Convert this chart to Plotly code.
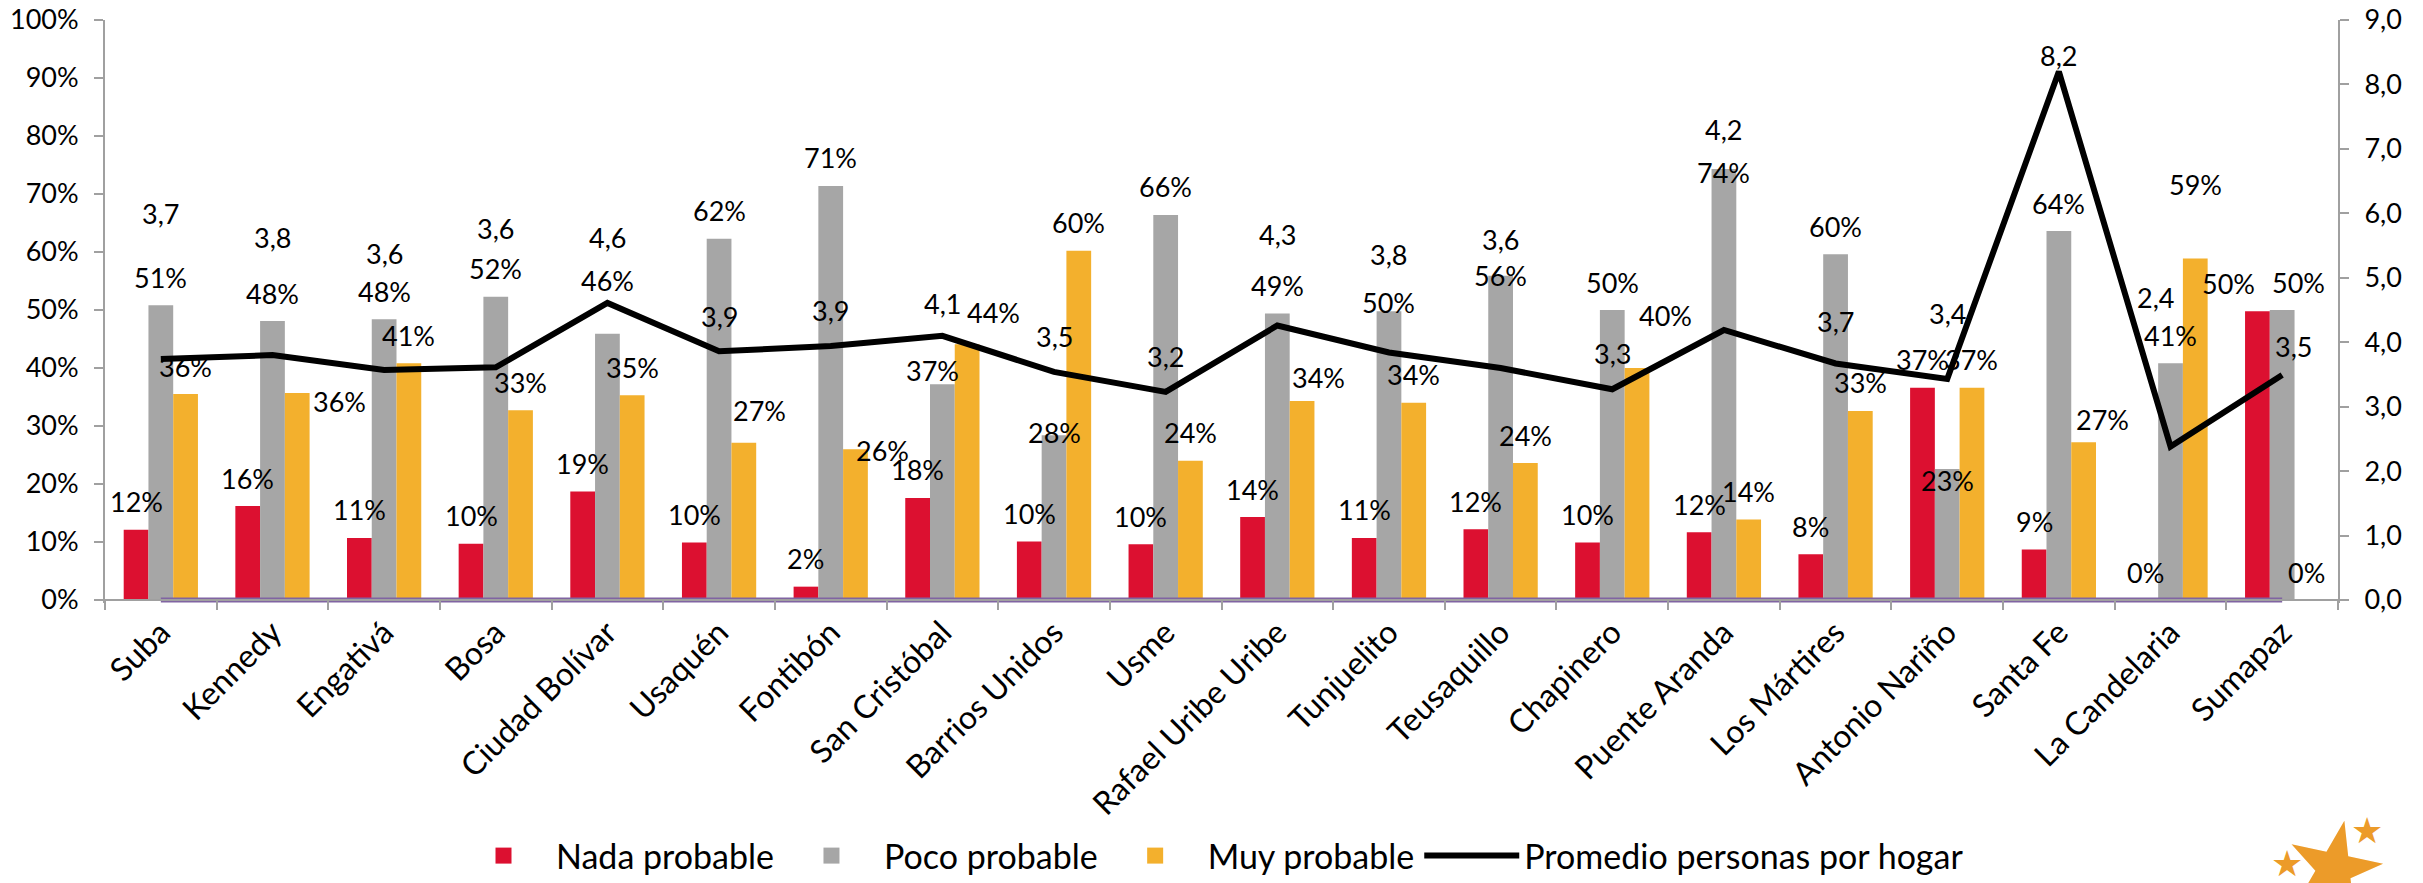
import plotly.graph_objects as go

# localidades de Bogota
localidades = ["Suba", "Kennedy", "Engativá", "Bosa", "Ciudad Bolívar", "Usaquén",
               "Fontibón", "San Cristóbal", "Barrios Unidos", "Usme",
               "Rafael Uribe Uribe", "Tunjuelito", "Teusaquillo", "Chapinero",
               "Puente Aranda", "Los Mártires", "Antonio Nariño", "Santa Fe",
               "La Candelaria", "Sumapaz"]

nada_probable = [12.1, 16.2, 10.7, 9.7, 18.7, 9.9, 2.3, 17.6, 10.1, 9.6,
                 14.3, 10.7, 12.2, 9.9, 11.7, 7.9, 36.6, 8.7, 0.0, 49.8]
poco_probable = [50.8, 48.1, 48.4, 52.3, 45.9, 62.3, 71.4, 37.2, 28.4, 66.4,
                 49.4, 49.8, 55.9, 50.0, 74.3, 59.6, 22.6, 63.6, 40.8, 50.0]
muy_probable = [35.5, 35.7, 40.8, 32.7, 35.3, 27.1, 26.0, 44.1, 60.2, 24.0,
                34.3, 34.0, 23.6, 40.0, 13.9, 32.6, 36.6, 27.2, 58.9, 0.0]
promedio_hogar = [3.74, 3.80, 3.57, 3.61, 4.61, 3.86, 3.94, 4.10, 3.54, 3.23,
                  4.26, 3.84, 3.60, 3.27, 4.19, 3.67, 3.43, 8.20, 2.38, 3.49]
linea_base = [0, 0, 0, 0, 0, 0, 0, 0, 0, 0, 0, 0, 0, 0, 0, 0, 0, 0, 0, 0]

ROJO = "#DC1030"
GRIS = "#A6A6A6"
NARANJA = "#F3B02D"
MORADO = "#8064A2"
EJE = "#A0A0A0"
FUENTE = "Lato, sans-serif"

W, H = 2423, 883
ML, MR, MT, MB = 105, 85, 20, 280
BAJO_CERO = 3  # px of plot area kept below 0 so the purple base line is not clipped
BARGAP = 0.335
alto_area = H - MT - MB
extra = BAJO_CERO / (alto_area - BAJO_CERO)

# hand-moved data labels (pixels, dx right / dy down), as in the source chart
mov_nada = {19: (-29, 0)}
mov_poco = {4: (0, -25), 7: (-10, 14), 8: (0, 25), 11: (0, 19), 12: (0, 28),
            14: (0, 31), 16: (0, 40), 19: (16, 0)}
mov_muy = {1: (42, 37), 5: (16, -4), 6: (27, 29), 7: (26, -4), 10: (16, 4),
           13: (28, -25), 17: (19, 5), 18: (0, -46)}
# distance of the average labels above the line (px)
alto_prom = [145, 118, 116, 139, 65, 35, 36, 32, 35, 35,
             91, 98, 129, 36, 200, 42, 65, 16, 149, 29]
mov_prom_x = {18: -15, 19: 11}

fig = go.Figure()

series = [("Nada probable", nada_probable, ROJO),
          ("Poco probable", poco_probable, GRIS),
          ("Muy probable", muy_probable, NARANJA)]
for nombre, valores, color in series:
    fig.add_trace(go.Bar(
        x=localidades, y=[v / 100 for v in valores], name=nombre,
        marker=dict(color=color, line=dict(width=0)),
        legendgroup=nombre, showlegend=False,
        hoverinfo="x+y+name",
    ))

fig.add_trace(go.Scatter(
    x=localidades, y=linea_base, mode="lines", showlegend=False,
    line=dict(color=MORADO, width=5), hoverinfo="skip",
))

fig.add_trace(go.Scatter(
    x=localidades, y=promedio_hogar, yaxis="y2", mode="lines",
    name="Promedio personas por hogar", showlegend=False,
    line=dict(color="black", width=6),
))

# legend entries (bigger squares than the default bar swatch)
for nombre, valores, color in series:
    fig.add_trace(go.Scatter(
        x=[None], y=[None], mode="markers", name=nombre, legendgroup=nombre,
        marker=dict(symbol="square", size=22, color=color),
    ))
fig.add_trace(go.Scatter(
    x=[None], y=[None], mode="lines", name="Promedio personas por hogar",
    line=dict(color="black", width=6),
))

# data labels
slot = (W - ML - MR) / len(localidades)
bw = slot * (1 - BARGAP) / 3
anots = []
for k, ((nombre, valores, color), movs) in enumerate(
        zip(series, [mov_nada, mov_poco, mov_muy])):
    for i, v in enumerate(valores):
        dx, dy = movs.get(i, (0, 0))
        anots.append(dict(
            x=localidades[i], y=v / 100, xref="x", yref="y",
            text=f"{round(v):d}%", showarrow=False,
            xanchor="center", yanchor="middle",
            xshift=(k - 1) * bw + dx, yshift=28 - dy,
        ))
for i, v in enumerate(promedio_hogar):
    anots.append(dict(
        x=localidades[i], y=v, xref="x", yref="y2",
        text=f"{v:.1f}".replace(".", ","), showarrow=False,
        xanchor="center", yanchor="middle",
        xshift=mov_prom_x.get(i, 0), yshift=alto_prom[i],
    ))

# logo de estrellas
abajo = H - MB
for px, py, tam, ang in [(2334, 866, 122, 12), (2367, 830, 36, 0), (2287, 863, 36, 0)]:
    anots.append(dict(
        x=(px - ML) / (W - ML - MR), y=(abajo - py) / alto_area,
        xref="paper", yref="paper", text="★", showarrow=False,
        xanchor="center", yanchor="middle", textangle=ang,
        font=dict(family="DejaVu Sans", size=tam, color="#EC9B29"),
    ))

ejes = dict(showline=True, linecolor=EJE, linewidth=2, ticks="outside",
            ticklen=9, tickcolor=EJE, tickwidth=2, showgrid=False,
            zeroline=False)

fig.update_layout(
    width=W, height=H,
    margin=dict(l=ML, r=MR, t=MT, b=MB, autoexpand=False),
    paper_bgcolor="white", plot_bgcolor="white",
    font=dict(family=FUENTE, size=27, color="black"),
    separators=",.",
    barmode="group", bargap=BARGAP, bargroupgap=0,
    annotations=anots,
    legend=dict(orientation="h", x=(1210 - ML) / (W - ML - MR), xanchor="center",
                y=(abajo - 856) / alto_area, yanchor="middle",
                font=dict(size=34), itemwidth=95, bgcolor="rgba(0,0,0,0)"),
    xaxis=dict(
        type="category", tickson="boundaries", tickangle=-45,
        tickfont=dict(size=32), anchor="free",
        position=BAJO_CERO / alto_area, **ejes,
    ),
    yaxis=dict(
        range=[-extra, 1], tickvals=[i / 10 for i in range(11)],
        tickformat=".0%", ticklabelstandoff=10, **ejes,
    ),
    yaxis2=dict(
        range=[-9 * extra, 9], tickvals=list(range(10)), tickformat=".1f",
        overlaying="y", side="right", anchor="x", ticklabelstandoff=10,
        **ejes,
    ),
)

fig.write_html("out.html", config={"displayModeBar": False},
               post_script="document.body.style.margin='0';")
